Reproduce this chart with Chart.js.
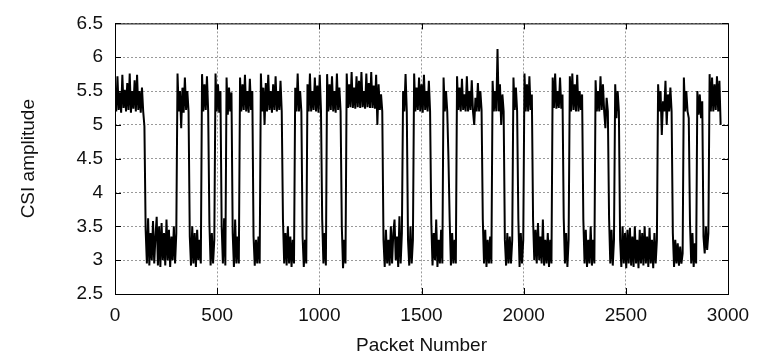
<!DOCTYPE html>
<html lang="en">
<head>
    <meta charset="UTF-8">
    <title>CSI amplitude vs packet number</title>
    <script src="https://cdn.jsdelivr.net/npm/chart.js"></script>
    <style>
        body {
            margin: 0;
            background: #fff;
        }

        .chart-box {
            width: 767px;
            height: 357px;
        }
    </style>
</head>
<body>
    <div class="chart-box">
        <canvas id="csiChart"></canvas>
    </div>

    <script>
        // one CSI sample every 6 packets (high ~5.3, low ~3.1)
        const PACKET_STEP = 6;
        const csiAmplitude = [
            // 0-144 high
            5.5,5.2,5.72,5.22,5.48,5.18,5.74,5.25,5.52,5.2,5.62,5.22,5.76,5.18,5.5,5.24,5.66,5.2,5.74,5.22,5.5,5.18,5.55,5.2,4.98,
            // 150-300 low
            3.45,2.95,3.62,2.92,3.4,3.0,3.58,2.95,3.35,3.64,2.92,3.5,2.9,3.55,3.0,3.4,2.92,3.6,3.0,3.45,2.9,3.35,3.0,3.5,2.95,3.4,
            5.76,5.2,5.5,4.95,5.55,5.18,5.7,5.22,5.5,5.2,
            3.35,2.92,3.5,2.95,3.4,2.9,3.45,3.0,3.3,2.95,
            5.75,5.2,5.6,5.22,5.72,5.2,
            3.55,2.92,3.4,2.95,3.3,
            5.76,5.2,5.6,5.18,5.5,
            3.5,2.95,3.62,2.92,
            5.7,5.15,5.55,5.2,5.48,
            3.4,2.9,3.6,2.95,3.35,2.95,
            5.7,5.2,5.6,5.22,5.74,5.2,5.5,5.18,5.68,5.22,5.5,
            3.35,2.92,3.3,2.95,3.35,2.95,
            5.76,5.2,5.55,5.0,5.62,5.2,5.74,5.22,5.5,5.18,5.6,5.22,5.72,5.2,5.5,5.22,5.65,5.2,
            3.6,2.95,3.4,2.92,3.5,2.95,3.35,2.9,3.3,2.95,
            5.55,5.2,5.76,5.2,5.5,5.2,
            3.35,2.9,3.3,2.95,
            5.6,5.2,5.76,5.2,5.5,5.22,5.7,5.2,5.58,5.18,5.74,5.22,
            3.6,2.95,3.4,2.92,
            5.75,5.2,5.6,5.22,5.72,5.2,5.5,5.18,5.76,5.22,5.55,5.2,
            3.5,2.88,3.3,2.95,
            // 1134-1308 long high stretch
            5.76,5.25,5.6,5.26,5.78,5.25,5.55,5.24,5.72,5.26,
            5.65,5.25,5.78,5.26,5.5,5.24,5.76,5.26,5.62,5.25,
            5.78,5.25,5.58,5.24,5.74,5.0,5.6,5.22,5.45,5.2,
            3.3,2.9,3.45,2.95,3.3,2.92,3.5,2.95,3.4,3.6,3.0,3.35,2.9,3.65,2.95,3.4,
            5.5,5.2,5.75,5.2,
            3.3,2.92,3.5,2.95,3.3,
            5.76,5.2,5.55,5.22,5.7,5.2,5.6,5.18,5.74,5.22,5.5,5.2,5.65,5.2,
            3.55,2.92,3.4,3.0,3.6,2.9,3.3,2.95,3.45,2.95,
            5.7,5.2,5.5,5.2,4.5,
            3.58,2.92,3.4,2.95,3.3,2.95,
            5.72,5.22,5.55,5.2,5.68,5.22,5.45,5.2,5.72,5.2,5.5,5.22,5.66,5.2,5.0,5.4,5.2,5.62,5.2,5.5,5.22,
            3.6,2.95,3.45,2.9,3.3,2.95,3.35,2.95,
            // spike near packet 1870
            5.65,5.2,5.5,5.2,6.12,5.2,5.6,5.0,5.45,5.2,
            3.3,2.92,3.4,2.95,3.35,2.95,3.3,
            5.7,5.22,5.55,5.2,
            3.6,2.9,3.4,2.95,3.3,
            5.76,5.2,5.6,5.2,5.72,5.22,5.45,
            3.6,3.0,3.45,2.95,3.55,3.0,3.35,2.95,3.6,2.92,3.3,2.95,3.4,2.9,3.3,2.95,
            5.7,5.25,5.76,5.24,5.5,5.25,5.7,5.24,5.45,
            3.62,2.95,3.4,2.9,3.3,
            5.72,5.2,5.76,5.22,5.6,5.2,5.74,5.2,5.5,5.22,5.45,
            3.6,2.95,3.45,2.9,3.3,2.95,3.5,2.92,3.3,2.95,
            5.66,5.2,5.5,5.2,5.72,5.22,5.6,5.2,4.95,5.4,5.2,
            3.62,2.95,3.45,2.92,3.3,
            5.6,5.1,5.5,5.2,
            // 2472-2652 long low stretch
            3.3,2.9,3.5,2.95,3.4,2.88,3.45,2.95,3.48,2.92,
            3.35,2.9,3.5,2.95,3.3,2.88,3.45,2.95,3.4,2.92,
            3.5,2.95,3.35,2.9,3.48,2.95,3.3,2.88,3.4,2.95,3.3,
            5.6,5.2,5.5,4.85,5.35,5.2,5.65,5.0,5.45,5.2,5.55,5.2,
            3.4,2.9,3.3,2.95,3.25,2.92,3.2,2.95,3.1,
            5.7,5.2,5.5,5.2,5.1,
            3.55,2.95,3.4,2.9,3.25,2.95,
            5.5,5.15,5.45,5.1,5.35,
            3.35,3.1,3.5,3.15,3.4,
            5.75,5.2,5.7,5.2,5.6,5.22,5.72,5.2,5.65,5.0
        ];

        const xTicks = [0, 500, 1000, 1500, 2000, 2500, 3000];
        const yTicks = [2.5, 3, 3.5, 4, 4.5, 5, 5.5, 6, 6.5];

        const points = csiAmplitude.map((v, i) => ({ x: i * PACKET_STEP, y: v }));

        const font = { family: "'Liberation Sans', Arial, sans-serif", size: 19 };

        // gnuplot style box with inward tick marks
        const frame = {
            id: 'frame',
            afterDraw(chart) {
                const { ctx, chartArea: a, scales } = chart;
                ctx.save();
                ctx.strokeStyle = '#000';
                ctx.lineWidth = 1;
                ctx.strokeRect(a.left + 0.5, a.top + 0.5, a.right - a.left, a.bottom - a.top);
                ctx.beginPath();
                xTicks.forEach(t => {
                    const px = Math.round(scales.x.getPixelForValue(t)) + 0.5;
                    ctx.moveTo(px, a.bottom); ctx.lineTo(px, a.bottom - 6);
                    ctx.moveTo(px, a.top); ctx.lineTo(px, a.top + 6);
                });
                yTicks.forEach(t => {
                    const py = Math.round(scales.y.getPixelForValue(t)) + 0.5;
                    ctx.moveTo(a.left, py); ctx.lineTo(a.left + 6, py);
                    ctx.moveTo(a.right, py); ctx.lineTo(a.right - 6, py);
                });
                ctx.stroke();
                ctx.restore();
            }
        };

        new Chart(document.getElementById('csiChart'), {
            type: 'line',
            data: {
                datasets: [{
                    data: points,
                    borderColor: '#000',
                    borderWidth: 2,
                    pointRadius: 0,
                    tension: 0,
                    fill: false
                }]
            },
            options: {
                responsive: true,
                maintainAspectRatio: false,
                animation: false,
                events: [],
                layout: { padding: { top: 17, right: 39, left: 0, bottom: 0 } },
                plugins: {
                    legend: { display: false },
                    tooltip: { enabled: false }
                },
                scales: {
                    x: {
                        type: 'linear',
                        min: 0,
                        max: 3000,
                        afterBuildTicks: s => { s.ticks = xTicks.map(v => ({ value: v })); },
                        afterFit: s => { s.height = 63; },
                        grid: { color: '#999', drawTicks: false },
                        border: { display: false, dash: [2, 2] },
                        ticks: { color: '#111', font: font, padding: 10, maxRotation: 0, callback: v => String(v) },
                        title: { display: true, text: 'Packet Number', color: '#111', font: font, padding: { top: 4, bottom: 0 } }
                    },
                    y: {
                        min: 2.5,
                        max: 6.5,
                        afterBuildTicks: s => { s.ticks = yTicks.map(v => ({ value: v })); },
                        afterFit: s => { s.width = 115; },
                        grid: { color: '#999', drawTicks: false },
                        border: { display: false, dash: [2, 2] },
                        ticks: { color: '#111', font: font, padding: 12, callback: v => String(v) },
                        title: { display: true, text: 'CSI amplitude', color: '#111', font: font, padding: { top: 17, bottom: 4 } }
                    }
                }
            },
            plugins: [frame]
        });
    </script>
</body>
</html>
